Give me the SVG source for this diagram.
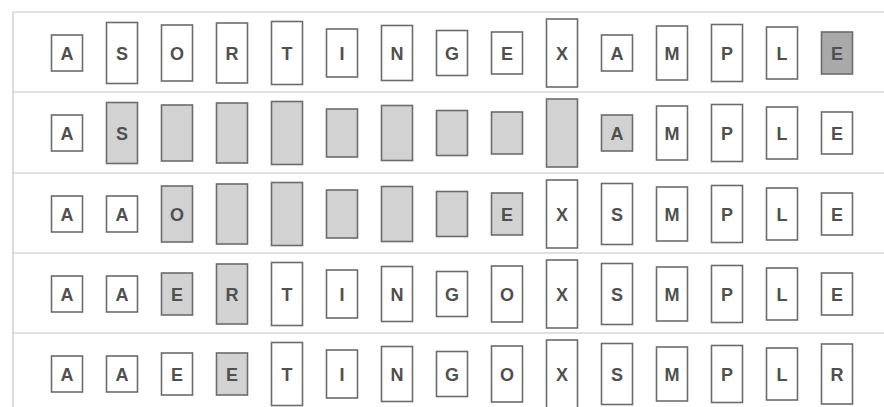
<svg xmlns="http://www.w3.org/2000/svg" width="884" height="407" viewBox="0 0 884 407">
<style>
.b{fill:#fff;stroke:#6c6c6c;stroke-width:1.6}
.s{fill:#d2d2d2}
.d{fill:#a9a9a9}
.t{font-family:"Liberation Sans",Arial,sans-serif;font-weight:bold;font-size:18px;fill:#505050;text-anchor:middle}
.ln{stroke:#c4c4c4;stroke-width:1.2;fill:none}
</style>
<rect x="0" y="0" width="884" height="407" fill="#fff"/>
<g id="connectors">
<line class="ln" x1="13" y1="12" x2="884" y2="12"/>
<line class="ln" x1="13" y1="92" x2="884" y2="92"/>
<line class="ln" x1="13" y1="173" x2="884" y2="173"/>
<line class="ln" x1="13" y1="253" x2="884" y2="253"/>
<line class="ln" x1="13" y1="333" x2="884" y2="333"/>
<line class="ln" x1="13" y1="12" x2="13" y2="407"/>
</g>
<!-- Row 1 -->
<g id="r1c0"><rect class="b" x="51.5" y="35" width="31" height="36"/><text class="t" x="67" y="59.5">A</text></g>
<g id="r1c1"><rect class="b" x="106.5" y="22.5" width="31" height="61"/><text class="t" x="122" y="59.5">S</text></g>
<g id="r1c2"><rect class="b" x="161.5" y="25" width="31" height="56"/><text class="t" x="177" y="59.5">O</text></g>
<g id="r1c3"><rect class="b" x="216.5" y="23" width="31" height="60"/><text class="t" x="232" y="59.5">R</text></g>
<g id="r1c4"><rect class="b" x="271.5" y="21.5" width="31" height="63"/><text class="t" x="287" y="59.5">T</text></g>
<g id="r1c5"><rect class="b" x="326.5" y="29" width="31" height="48"/><text class="t" x="342" y="59.5">I</text></g>
<g id="r1c6"><rect class="b" x="381.5" y="25.5" width="31" height="55"/><text class="t" x="397" y="59.5">N</text></g>
<g id="r1c7"><rect class="b" x="436.5" y="30.5" width="31" height="45"/><text class="t" x="452" y="59.5">G</text></g>
<g id="r1c8"><rect class="b" x="491.5" y="32" width="31" height="42"/><text class="t" x="507" y="59.5">E</text></g>
<g id="r1c9"><rect class="b" x="546.5" y="19" width="31" height="68"/><text class="t" x="562" y="59.5">X</text></g>
<g id="r1c10"><rect class="b" x="601.5" y="35" width="31" height="36"/><text class="t" x="617" y="59.5">A</text></g>
<g id="r1c11"><rect class="b" x="656.5" y="26" width="31" height="54"/><text class="t" x="672" y="59.5">M</text></g>
<g id="r1c12"><rect class="b" x="711.5" y="24.5" width="31" height="57"/><text class="t" x="727" y="59.5">P</text></g>
<g id="r1c13"><rect class="b" x="766.5" y="27" width="31" height="52"/><text class="t" x="782" y="59.5">L</text></g>
<g id="r1c14"><rect class="b d" x="821.5" y="32" width="31" height="42"/><text class="t" x="837" y="59.5">E</text></g>
<!-- Row 2 -->
<g id="r2c0"><rect class="b" x="51.5" y="115" width="31" height="36"/><text class="t" x="67" y="139.5">A</text></g>
<g id="r2c1"><rect class="b s" x="106.5" y="102.5" width="31" height="61"/><text class="t" x="122" y="139.5">S</text></g>
<g id="r2c2"><rect class="b s" x="161.5" y="105" width="31" height="56"/></g>
<g id="r2c3"><rect class="b s" x="216.5" y="103" width="31" height="60"/></g>
<g id="r2c4"><rect class="b s" x="271.5" y="101.5" width="31" height="63"/></g>
<g id="r2c5"><rect class="b s" x="326.5" y="109" width="31" height="48"/></g>
<g id="r2c6"><rect class="b s" x="381.5" y="105.5" width="31" height="55"/></g>
<g id="r2c7"><rect class="b s" x="436.5" y="110.5" width="31" height="45"/></g>
<g id="r2c8"><rect class="b s" x="491.5" y="112" width="31" height="42"/></g>
<g id="r2c9"><rect class="b s" x="546.5" y="99" width="31" height="68"/></g>
<g id="r2c10"><rect class="b s" x="601.5" y="115" width="31" height="36"/><text class="t" x="617" y="139.5">A</text></g>
<g id="r2c11"><rect class="b" x="656.5" y="106" width="31" height="54"/><text class="t" x="672" y="139.5">M</text></g>
<g id="r2c12"><rect class="b" x="711.5" y="104.5" width="31" height="57"/><text class="t" x="727" y="139.5">P</text></g>
<g id="r2c13"><rect class="b" x="766.5" y="107" width="31" height="52"/><text class="t" x="782" y="139.5">L</text></g>
<g id="r2c14"><rect class="b" x="821.5" y="112" width="31" height="42"/><text class="t" x="837" y="139.5">E</text></g>
<!-- Row 3 -->
<g id="r3c0"><rect class="b" x="51.5" y="196" width="31" height="36"/><text class="t" x="67" y="220.5">A</text></g>
<g id="r3c1"><rect class="b" x="106.5" y="196" width="31" height="36"/><text class="t" x="122" y="220.5">A</text></g>
<g id="r3c2"><rect class="b s" x="161.5" y="186" width="31" height="56"/><text class="t" x="177" y="220.5">O</text></g>
<g id="r3c3"><rect class="b s" x="216.5" y="184" width="31" height="60"/></g>
<g id="r3c4"><rect class="b s" x="271.5" y="182.5" width="31" height="63"/></g>
<g id="r3c5"><rect class="b s" x="326.5" y="190" width="31" height="48"/></g>
<g id="r3c6"><rect class="b s" x="381.5" y="186.5" width="31" height="55"/></g>
<g id="r3c7"><rect class="b s" x="436.5" y="191.5" width="31" height="45"/></g>
<g id="r3c8"><rect class="b s" x="491.5" y="193" width="31" height="42"/><text class="t" x="507" y="220.5">E</text></g>
<g id="r3c9"><rect class="b" x="546.5" y="180" width="31" height="68"/><text class="t" x="562" y="220.5">X</text></g>
<g id="r3c10"><rect class="b" x="601.5" y="183.5" width="31" height="61"/><text class="t" x="617" y="220.5">S</text></g>
<g id="r3c11"><rect class="b" x="656.5" y="187" width="31" height="54"/><text class="t" x="672" y="220.5">M</text></g>
<g id="r3c12"><rect class="b" x="711.5" y="185.5" width="31" height="57"/><text class="t" x="727" y="220.5">P</text></g>
<g id="r3c13"><rect class="b" x="766.5" y="188" width="31" height="52"/><text class="t" x="782" y="220.5">L</text></g>
<g id="r3c14"><rect class="b" x="821.5" y="193" width="31" height="42"/><text class="t" x="837" y="220.5">E</text></g>
<!-- Row 4 -->
<g id="r4c0"><rect class="b" x="51.5" y="276" width="31" height="36"/><text class="t" x="67" y="300.5">A</text></g>
<g id="r4c1"><rect class="b" x="106.5" y="276" width="31" height="36"/><text class="t" x="122" y="300.5">A</text></g>
<g id="r4c2"><rect class="b s" x="161.5" y="273" width="31" height="42"/><text class="t" x="177" y="300.5">E</text></g>
<g id="r4c3"><rect class="b s" x="216.5" y="264" width="31" height="60"/><text class="t" x="232" y="300.5">R</text></g>
<g id="r4c4"><rect class="b" x="271.5" y="262.5" width="31" height="63"/><text class="t" x="287" y="300.5">T</text></g>
<g id="r4c5"><rect class="b" x="326.5" y="270" width="31" height="48"/><text class="t" x="342" y="300.5">I</text></g>
<g id="r4c6"><rect class="b" x="381.5" y="266.5" width="31" height="55"/><text class="t" x="397" y="300.5">N</text></g>
<g id="r4c7"><rect class="b" x="436.5" y="271.5" width="31" height="45"/><text class="t" x="452" y="300.5">G</text></g>
<g id="r4c8"><rect class="b" x="491.5" y="266" width="31" height="56"/><text class="t" x="507" y="300.5">O</text></g>
<g id="r4c9"><rect class="b" x="546.5" y="260" width="31" height="68"/><text class="t" x="562" y="300.5">X</text></g>
<g id="r4c10"><rect class="b" x="601.5" y="263.5" width="31" height="61"/><text class="t" x="617" y="300.5">S</text></g>
<g id="r4c11"><rect class="b" x="656.5" y="267" width="31" height="54"/><text class="t" x="672" y="300.5">M</text></g>
<g id="r4c12"><rect class="b" x="711.5" y="265.5" width="31" height="57"/><text class="t" x="727" y="300.5">P</text></g>
<g id="r4c13"><rect class="b" x="766.5" y="268" width="31" height="52"/><text class="t" x="782" y="300.5">L</text></g>
<g id="r4c14"><rect class="b" x="821.5" y="273" width="31" height="42"/><text class="t" x="837" y="300.5">E</text></g>
<!-- Row 5 -->
<g id="r5c0"><rect class="b" x="51.5" y="356" width="31" height="36"/><text class="t" x="67" y="380.5">A</text></g>
<g id="r5c1"><rect class="b" x="106.5" y="356" width="31" height="36"/><text class="t" x="122" y="380.5">A</text></g>
<g id="r5c2"><rect class="b" x="161.5" y="353" width="31" height="42"/><text class="t" x="177" y="380.5">E</text></g>
<g id="r5c3"><rect class="b s" x="216.5" y="353" width="31" height="42"/><text class="t" x="232" y="380.5">E</text></g>
<g id="r5c4"><rect class="b" x="271.5" y="342.5" width="31" height="63"/><text class="t" x="287" y="380.5">T</text></g>
<g id="r5c5"><rect class="b" x="326.5" y="350" width="31" height="48"/><text class="t" x="342" y="380.5">I</text></g>
<g id="r5c6"><rect class="b" x="381.5" y="346.5" width="31" height="55"/><text class="t" x="397" y="380.5">N</text></g>
<g id="r5c7"><rect class="b" x="436.5" y="351.5" width="31" height="45"/><text class="t" x="452" y="380.5">G</text></g>
<g id="r5c8"><rect class="b" x="491.5" y="346" width="31" height="56"/><text class="t" x="507" y="380.5">O</text></g>
<g id="r5c9"><rect class="b" x="546.5" y="340" width="31" height="68"/><text class="t" x="562" y="380.5">X</text></g>
<g id="r5c10"><rect class="b" x="601.5" y="343.5" width="31" height="61"/><text class="t" x="617" y="380.5">S</text></g>
<g id="r5c11"><rect class="b" x="656.5" y="347" width="31" height="54"/><text class="t" x="672" y="380.5">M</text></g>
<g id="r5c12"><rect class="b" x="711.5" y="345.5" width="31" height="57"/><text class="t" x="727" y="380.5">P</text></g>
<g id="r5c13"><rect class="b" x="766.5" y="348" width="31" height="52"/><text class="t" x="782" y="380.5">L</text></g>
<g id="r5c14"><rect class="b" x="821.5" y="344" width="31" height="60"/><text class="t" x="837" y="380.5">R</text></g>
</svg>
